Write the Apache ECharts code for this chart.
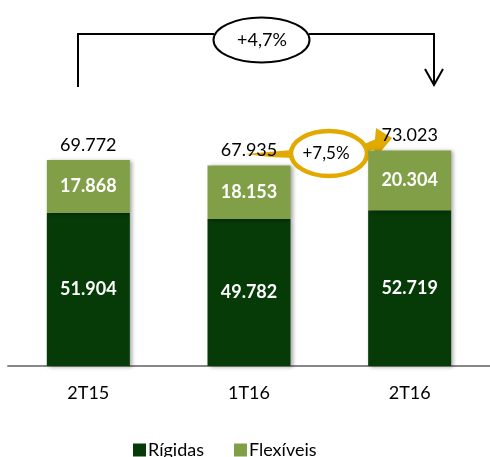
<!DOCTYPE html>
<html>
<head>
<meta charset="utf-8">
<script src="https://cdn.jsdelivr.net/npm/echarts@6/dist/echarts.min.js"></script>
<style>html,body{margin:0;padding:0;background:#fff;}#c{width:490px;height:457px;}</style>
</head>
<body>
<div id="c"></div>
<script>
var categories = ['2T15', '1T16', '2T16'];
var rigidas = [51.904, 49.782, 52.719];
var flexiveis = [17.868, 18.153, 20.304];
var totals = [69.772, 67.935, 73.023];
var seriesNames = ['Rígidas', 'Flexíveis'];
var growthTotal = '+4,7%';
var growthQuarter = '+7,5%';

var FONT = 'Lato, "Open Sans", sans-serif';
var GOLD = '#E2AA00';
var chart = echarts.init(document.getElementById('c'), null, {renderer: 'canvas'});
function fmt(v) { return v.toFixed(3); }
var shadow = {shadowBlur: 4, shadowOffsetX: 2, shadowOffsetY: 1, shadowColor: 'rgba(0,0,0,0.35)'};

chart.setOption({
  animation: false,
  backgroundColor: '#fff',
  grid: {left: 8, width: 490, top: 70.8, bottom: 91},
  legend: {
    data: seriesNames, left: 128, top: 436, itemWidth: 13, itemHeight: 13, itemGap: 30,
    icon: 'rect', textStyle: {fontFamily: FONT, fontSize: 18, color: '#000', padding: [0, 0, 0, -3]}
  },
  xAxis: {
    type: 'category', data: categories,
    axisLine: {lineStyle: {color: '#888', width: 2}},
    axisTick: {show: false},
    axisLabel: {fontFamily: FONT, fontSize: 18, color: '#000', margin: 18}
  },
  yAxis: {type: 'value', min: 0, max: 100, show: false, splitLine: {show: false}},
  series: [
    {
      name: seriesNames[0], type: 'bar', stack: 's', barWidth: 83, data: rigidas,
      itemStyle: Object.assign({color: '#063A07'}, shadow),
      label: {show: true, position: 'inside', formatter: function (p) { return fmt(p.value); },
        fontFamily: FONT, fontSize: 18, fontWeight: 'bold', color: '#fff'}
    },
    {
      name: seriesNames[1], type: 'bar', stack: 's', barWidth: 83, data: flexiveis,
      itemStyle: Object.assign({color: '#809F46'}, shadow),
      label: {show: true, position: 'inside', formatter: function (p) { return fmt(p.value); },
        fontFamily: FONT, fontSize: 18, fontWeight: 'bold', color: '#fff'}
    },
    {
      name: 'Total', type: 'bar', stack: 's', barWidth: 83, data: totals.map(function () { return 0; }),
      itemStyle: {color: 'transparent'},
      label: {show: true, position: 'top', distance: 6,
        formatter: function (p) { return fmt(totals[p.dataIndex]); },
        fontFamily: FONT, fontSize: 18, color: '#000'}
    }
  ],
  graphic: [
    {type: 'polyline', shape: {points: [[78, 87], [78, 34], [214, 34]]}, style: {stroke: '#000', lineWidth: 2, fill: null}},
    {type: 'polyline', shape: {points: [[309, 34], [434, 34], [434, 85]]}, style: {stroke: '#000', lineWidth: 2, fill: null}},
    {type: 'polyline', shape: {points: [[425, 69], [434, 85], [443, 69]]}, style: {stroke: '#000', lineWidth: 2, fill: null}},
    {type: 'ellipse', shape: {cx: 261.5, cy: 40, rx: 48, ry: 22.5}, style: {stroke: '#000', lineWidth: 2, fill: '#fff'}},
    {type: 'text', x: 262, y: 40, style: {text: growthTotal, font: '18px Lato, sans-serif', fill: '#000', align: 'center', verticalAlign: 'middle'}},
    {type: 'polygon', shape: {points: [[245, 154], [292, 150], [293, 158], [270, 157]]}, style: {fill: GOLD}},
    {type: 'polygon', shape: {points: [[362, 153], [362, 145], [376, 139], [379, 148]]}, style: {fill: GOLD}},
    {type: 'polygon', shape: {points: [[376, 128], [392, 138], [373, 161]]}, style: {fill: GOLD}},
    {type: 'ellipse', shape: {cx: 329, cy: 153.5, rx: 38, ry: 22.5}, style: {stroke: GOLD, lineWidth: 4.5, fill: '#fff'}},
    {type: 'text', x: 326, y: 154, style: {text: growthQuarter, font: '17px Lato, sans-serif', fill: '#000', align: 'center', verticalAlign: 'middle'}}
  ]
});
</script>
</body>
</html>
